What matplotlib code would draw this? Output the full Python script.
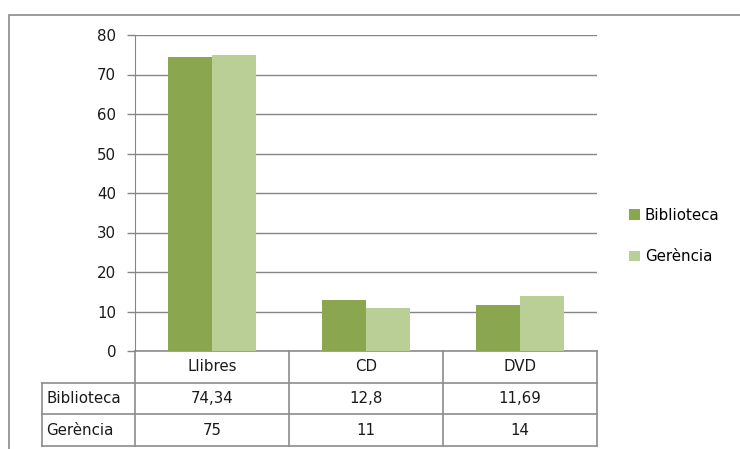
import matplotlib.pyplot as plt
import matplotlib.transforms as mtransforms
from matplotlib.patches import Rectangle

categories = ['Llibres', 'CD', 'DVD']
series_names = ['Biblioteca', 'Gerència']
biblioteca = [74.34, 12.8, 11.69]
gerencia = [75, 11, 14]
yticks = [0, 10, 20, 30, 40, 50, 60, 70, 80]

dark = '#8AA64E'
light = '#B9CF96'
grid_col = '#868686'
line_col = '#8C8C8C'

plt.rcParams['font.family'] = ['DejaVu Sans']
fs = 10.8

W, H = 740, 449
fig = plt.figure(figsize=(W / 100, H / 100), dpi=100)

# outer chart frame (left and top edges visible)
fig.patches.append(Rectangle((8.5 / W, -0.1), 1.2, (H - 14.5) / H + 0.1,
                             transform=fig.transFigure, fill=False,
                             edgecolor='#8A8A8A', linewidth=1.2))

# plot area in pixels
x0, x1 = 135, 597
ytop, ybot = 35, 351
ax = fig.add_axes([x0 / W, (H - ybot) / H, (x1 - x0) / W, (ybot - ytop) / H])

bw = 0.285
xs = list(range(len(categories)))
ax.bar([x - bw / 2 for x in xs], biblioteca, width=bw, color=dark, label=series_names[0], zorder=3)
ax.bar([x + bw / 2 for x in xs], gerencia, width=bw, color=light, label=series_names[1], zorder=3)

ax.set_xlim(-0.5, len(categories) - 0.5)
ax.set_ylim(0, 80)
ax.set_yticks(yticks)
ax.set_yticklabels([str(t) for t in yticks])
ax.yaxis.grid(True, color=grid_col, linewidth=1.0, zorder=0)
ax.set_xticks([])
for s in ['top', 'right', 'bottom']:
    ax.spines[s].set_visible(False)
ax.spines['left'].set_color(grid_col)
ax.tick_params(axis='y', length=5.5, width=1.0, color=grid_col, pad=8,
               labelsize=fs, labelcolor='#1a1a1a')

# data table below the axes: x in data units, y in axes fraction
tr = mtransforms.blended_transform_factory(ax.transData, ax.transAxes)
row_h = 95 / 316 / 3
lab_w = 93 / 154
left_edge = -0.5 - lab_w
right_edge = len(categories) - 0.5
kw = dict(transform=tr, color=line_col, linewidth=1.2, clip_on=False)

# horizontal lines
ax.plot([-0.5, right_edge], [0, 0], **kw)
for k in range(1, 4):
    ax.plot([left_edge, right_edge], [-k * row_h, -k * row_h], **kw)
# vertical lines
for xv in [x - 0.5 for x in xs] + [right_edge]:
    ax.plot([xv, xv], [0, -3 * row_h], **kw)
ax.plot([left_edge, left_edge], [-row_h, -3 * row_h], **kw)

for i, c in enumerate(categories):
    ax.text(i, -0.5 * row_h, c, transform=tr, ha='center', va='center', fontsize=fs, color='#1a1a1a')

rows = [biblioteca, gerencia]
for r, (name, vals) in enumerate(zip(series_names, rows)):
    yc = -(r + 1.5) * row_h
    ax.text(left_edge + 0.03, yc, name, transform=tr, ha='left', va='center', fontsize=fs, color='#1a1a1a')
    for i, v in enumerate(vals):
        ax.text(i, yc, ('%g' % v).replace('.', ','), transform=tr, ha='center', va='center',
                fontsize=fs, color='#1a1a1a')

fig.legend(loc='center left', bbox_to_anchor=(623 / W, (H - 236) / H), frameon=False,
           fontsize=fs, handlelength=0.7, handleheight=0.7, handletextpad=0.35,
           labelspacing=1.75, borderaxespad=0)

fig.savefig('out.png', dpi=100)
